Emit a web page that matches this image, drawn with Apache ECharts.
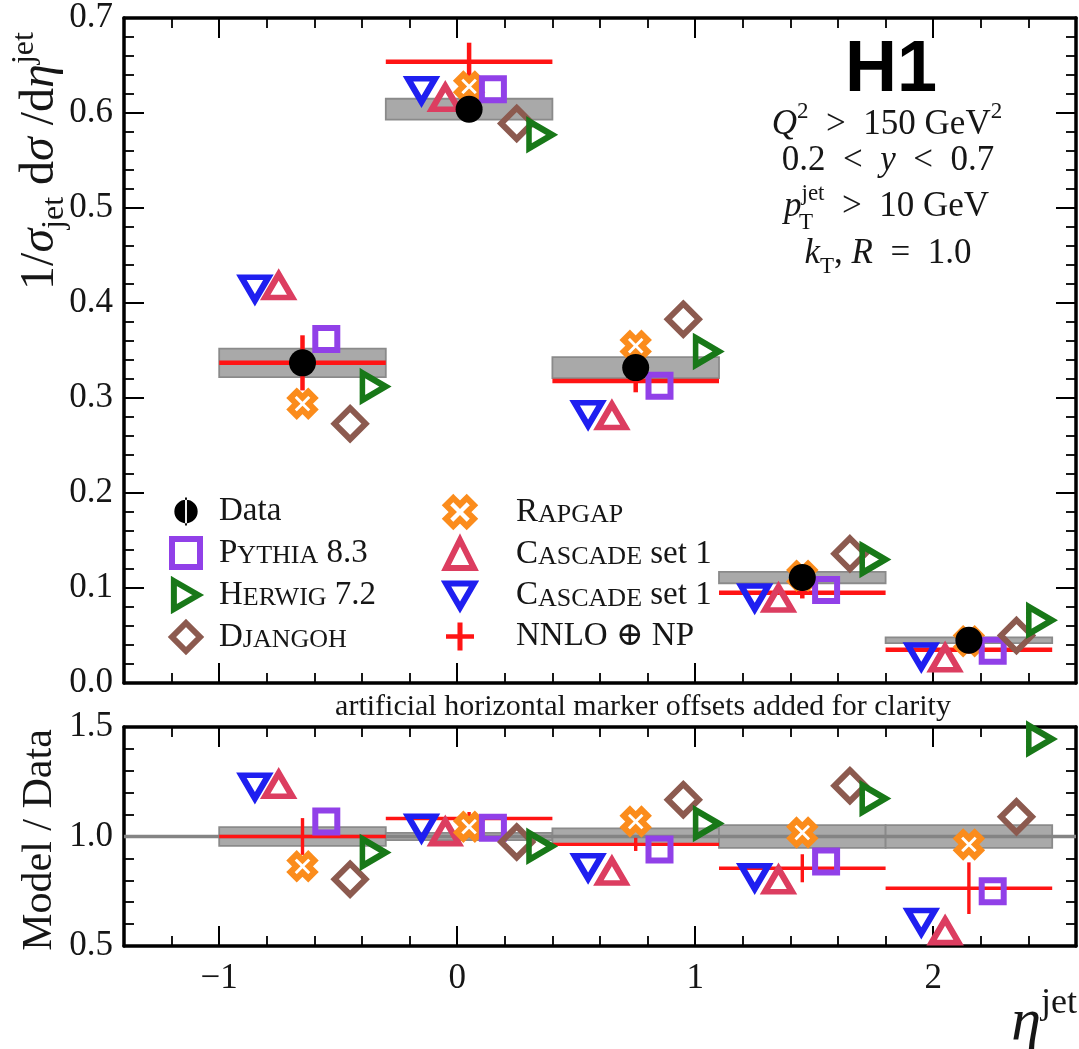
<!DOCTYPE html>
<html><head><meta charset="utf-8">
<script src="https://cdn.jsdelivr.net/npm/echarts@6/dist/echarts.min.js"></script>
<style>html,body{margin:0;padding:0;background:#fff}#c{width:1079px;height:1049px}</style>
</head><body><div id="c"></div>
<script>
// ---------- data ----------
const binLow    = [-1.0, -0.3, 0.4, 1.1, 1.8];
const binHigh   = [-0.3, 0.4, 1.1, 1.8, 2.5];
const binCenter = [-0.65, 0.05, 0.75, 1.45, 2.15];

const dataVal   = [0.337, 0.604, 0.332, 0.111, 0.045];
const dataErr   = [0.015, 0.011, 0.011, 0.006, 0.003];
const nnloVal   = [0.337, 0.654, 0.318, 0.095, 0.035];
const nnloErr   = [0.029, 0.020, 0.012, 0.006, 0.004];
const pythia    = [0.362, 0.625, 0.313, 0.098, 0.034];
const herwig    = [0.312, 0.577, 0.349, 0.130, 0.066];
const djangoh   = [0.273, 0.589, 0.383, 0.136, 0.050];
const rapgap    = [0.294, 0.628, 0.355, 0.113, 0.044];
const cascadeUp   = [0.418, 0.616, 0.281, 0.089, 0.026];
const cascadeDown = [0.415, 0.624, 0.283, 0.090, 0.028];

const dataRelErr       = [0.043, 0.017, 0.037, 0.052, 0.052];
const nnloRatio        = [1.000, 1.082, 0.964, 0.855, 0.764];
const nnloRatioErr     = [0.084, 0.030, 0.030, 0.064, 0.118];
const pythiaRatio      = [1.068, 1.040, 0.941, 0.886, 0.750];
const herwigRatio      = [0.927, 0.955, 1.059, 1.173, 1.445];
const djangohRatio     = [0.805, 0.975, 1.168, 1.232, 1.090];
const rapgapRatio      = [0.864, 1.045, 1.068, 1.018, 0.964];
const cascadeUpRatio   = [1.236, 1.020, 0.840, 0.800, 0.568];
const cascadeDownRatio = [1.227, 1.040, 0.860, 0.814, 0.610];
const unity = [1.0];

const xTickMajor = [-1, 0, 1, 2];
// artificial horizontal marker offsets (eta units)
const offCDown = -0.2, offCUp = -0.1, offRapgap = 0, offData = 0, offPythia = 0.1, offDjangoh = 0.2, offHerwig = 0.3;

// ---------- style ----------
const SERIF = "'Liberation Serif','DejaVu Serif',serif";
const C_PYTHIA = '#9140e8', C_HERWIG = '#187818', C_DJANGOH = '#8c5a4f', C_RAPGAP = '#fb8c1c';
const C_CUP = '#dc3d60', C_CDOWN = '#1f1ff0', C_NNLO = '#ff1414', C_TXT = '#161616';
const SYM_DOWN  = 'path://M0,0 L10,0 L5,8.66 Z';
const SYM_RIGHT = 'path://M0,0 L8.66,5 L0,10 Z';
const SYM_X = 'path://M2.6,0 L5,2.4 L7.4,0 L10,2.6 L7.6,5 L10,7.4 L7.4,10 L5,7.6 L2.6,10 L0,7.4 L2.4,5 L0,2.6 Z';
const ICON_DATA = 'path://M1,6 A5,5 0 1,0 11,6 A5,5 0 1,0 1,6 Z M5.6,0 L6.4,0 L6.4,12 L5.6,12 Z';
const ICON_PLUS = 'path://M4.1,0 L5.9,0 L5.9,4.2 L10,4.2 L10,5.8 L5.9,5.8 L5.9,10 L4.1,10 L4.1,5.8 L0,5.8 L0,4.2 L4.1,4.2 Z';

const chart = echarts.init(document.getElementById('c'), null, {renderer: 'canvas'});

const gridTop = {left: 124, right: 3, top: 18, height: 665};
const gridBot = {left: 124, right: 3, top: 727, height: 219};

function xMajor(grid, pos, labels) {
  return {type: 'value', gridIndex: grid, position: pos, min: -1.4, max: 2.6,
    axisLine: {show: true, onZero: false, lineStyle: {color: '#000', width: 3.5}},
    axisTick: {show: true, inside: true, length: 20, customValues: xTickMajor, lineStyle: {color: '#000', width: 2}},
    axisLabel: {show: labels, customValues: xTickMajor, margin: 15,
      formatter: v => (v < 0 ? '\u2212' + Math.abs(v) : String(v)),
      fontFamily: SERIF, fontSize: 35, color: C_TXT},
    splitLine: {show: false}, minorTick: {show: false}};
}
function xMinor(grid, pos) {
  return {type: 'value', gridIndex: grid, position: pos, min: -1.4, max: 2.6, interval: 0.2,
    axisLine: {show: false, onZero: false},
    axisTick: {show: true, inside: true, length: 10, lineStyle: {color: '#000', width: 1.8}},
    axisLabel: {show: false}, splitLine: {show: false}};
}
function yAx(grid, pos, min, max, interval, labels) {
  return {type: 'value', gridIndex: grid, position: pos, min, max, interval,
    axisLine: {show: true, onZero: false, lineStyle: {color: '#000', width: 3.5}},
    axisTick: {show: true, inside: true, length: 20, lineStyle: {color: '#000', width: 2}},
    minorTick: {show: true, splitNumber: 5, length: 10, lineStyle: {color: '#000', width: 1.8}},
    axisLabel: {show: labels, margin: 11, formatter: v => v.toFixed(1), fontFamily: SERIF, fontSize: 35, color: C_TXT},
    splitLine: {show: false}, minorSplitLine: {show: false}};
}
function yHidden(grid) { return {type: 'value', gridIndex: grid, show: false, min: 0, max: 1, splitLine: {show: false}}; }

function boxRender(params, api) {
  const lo = api.value(0), hi = api.value(1), v = api.value(2), e = api.value(3);
  const p1 = api.coord([lo, v + e]), p2 = api.coord([hi, v - e]);
  return {type: 'rect', shape: {x: p1[0], y: p1[1], width: p2[0] - p1[0], height: p2[1] - p1[1]},
    style: {fill: '#a9a9a9', stroke: '#8a8a8a', lineWidth: 1.8}};
}
function nnloRender(lw) {
  return function (params, api) {
    const lo = api.value(0), hi = api.value(1), c = api.value(2), v = api.value(3), e = api.value(4);
    const a = api.coord([lo, v]), b = api.coord([hi, v]), t = api.coord([c, v + e]), u = api.coord([c, v - e]);
    return {type: 'group', children: [
      {type: 'line', shape: {x1: a[0], y1: a[1], x2: b[0], y2: b[1]}, style: {stroke: C_NNLO, lineWidth: lw}},
      {type: 'line', shape: {x1: t[0], y1: t[1], x2: u[0], y2: u[1]}, style: {stroke: C_NNLO, lineWidth: lw}}]};
  };
}
function unityRender(params, api) {
  const cs = params.coordSys;
  const y = api.coord([0, api.value(1)])[1];
  return {type: 'line', shape: {x1: cs.x, y1: y, x2: cs.x + cs.width, y2: y}, style: {stroke: '#848484', lineWidth: 3.5}};
}
function sc(name, vals, off, xi, yi, symbol, size, color, fill, bw, z) {
  return {type: 'scatter', name, xAxisIndex: xi, yAxisIndex: yi, z, symbol, symbolSize: size,
    data: vals.map((v, i) => [binCenter[i] + off, v]),
    itemStyle: {color: fill, borderColor: color, borderWidth: bw, opacity: 1},
    emphasis: {disabled: true}, silent: true};
}

const N_DATA = 'Data', N_PY = 'Pythia 8.3', N_HW = 'Herwig 7.2', N_DJ = 'Djangoh', N_RG = 'Rapgap',
      N_CU = 'Cascade set 1 (up)', N_CD = 'Cascade set 1 (down)', N_NN = 'NNLO \u2295 NP';

function modelSeries(xi, yi, v) {
  return [
    sc(N_CD, v.cd, offCDown, xi, yi, SYM_DOWN, [27, 23], C_CDOWN, 'none', 6, 5),
    sc(N_CU, v.cu, offCUp, xi, yi, 'triangle', [27, 23], C_CUP, 'none', 6, 5),
    sc(N_RG, v.rg, offRapgap, xi, yi, SYM_X, 24, C_RAPGAP, '#fff', 6, 5),
    sc(N_PY, v.py, offPythia, xi, yi, 'rect', 22, C_PYTHIA, 'none', 6, 5),
    sc(N_DJ, v.dj, offDjangoh, xi, yi, 'diamond', 31, C_DJANGOH, 'none', 6, 5),
    sc(N_HW, v.hw, offHerwig, xi, yi, SYM_RIGHT, [23, 27], C_HERWIG, 'none', 6, 5)
  ];
}

const series = [
  {type: 'custom', name: 'Data box', xAxisIndex: 0, yAxisIndex: 0, z: 2, silent: true, renderItem: boxRender,
    data: binLow.map((l, i) => [l, binHigh[i], dataVal[i], dataErr[i]])},
  {type: 'custom', name: N_NN, xAxisIndex: 0, yAxisIndex: 0, z: 4, silent: true, renderItem: nnloRender(4.5),
    itemStyle: {color: C_NNLO},
    data: binLow.map((l, i) => [l, binHigh[i], binCenter[i], nnloVal[i], nnloErr[i]])},
  ...modelSeries(0, 0, {cd: cascadeDown, cu: cascadeUp, rg: rapgap, py: pythia, dj: djangoh, hw: herwig}),
  sc(N_DATA, dataVal, offData, 0, 0, 'circle', 27, '#000', '#000', 0, 6),

  {type: 'custom', name: 'Data box r', xAxisIndex: 4, yAxisIndex: 3, z: 2, silent: true, renderItem: boxRender,
    data: binLow.map((l, i) => [l, binHigh[i], 1.0, dataRelErr[i]])},
  {type: 'custom', name: 'unity', xAxisIndex: 4, yAxisIndex: 3, z: 3, silent: true, renderItem: unityRender,
    data: unity.map(u => [0, u])},
  {type: 'custom', name: N_NN, xAxisIndex: 4, yAxisIndex: 3, z: 4, silent: true, renderItem: nnloRender(3.4),
    itemStyle: {color: C_NNLO},
    data: binLow.map((l, i) => [l, binHigh[i], binCenter[i], nnloRatio[i], nnloRatioErr[i]])},
  ...modelSeries(4, 3, {cd: cascadeDownRatio, cu: cascadeUpRatio, rg: rapgapRatio, py: pythiaRatio, dj: djangohRatio, hw: herwigRatio})
];

const legendText = {};
legendText[N_DATA] = '{n|Data}';
legendText[N_PY] = '{n|P}{s|YTHIA}{n| 8.3}';
legendText[N_HW] = '{n|H}{s|ERWIG}{n| 7.2}';
legendText[N_DJ] = '{n|D}{s|JANGOH}';
legendText[N_RG] = '{n|R}{s|APGAP}';
legendText[N_CU] = '{n|C}{s|ASCADE}{n| set 1}';
legendText[N_CD] = '{n|C}{s|ASCADE}{n| set 1}';
legendText[N_NN] = '{n|NNLO \u2295 NP}';
const legRich = {
  n: {fontFamily: SERIF, fontSize: 33, color: C_TXT, verticalAlign: 'bottom', lineHeight: 33},
  s: {fontFamily: SERIF, fontSize: 26, color: C_TXT, verticalAlign: 'bottom', lineHeight: 26}
};
function legend(left, pad, items) {
  return {show: true, orient: 'vertical', left, top: 490, itemGap: 8, itemWidth: 28, itemHeight: 28,
    selectedMode: false, formatter: n => legendText[n], data: items,
    textStyle: {padding: [0, 0, 0, pad], rich: legRich}};
}
const legends = [
  legend(164, 14, [
    {name: N_DATA, icon: ICON_DATA, itemStyle: {color: '#000', borderWidth: 0}},
    {name: N_PY, icon: 'rect', itemStyle: {color: 'rgba(0,0,0,0)', borderColor: C_PYTHIA, borderWidth: 6}},
    {name: N_HW, icon: SYM_RIGHT, itemStyle: {color: 'rgba(0,0,0,0)', borderColor: C_HERWIG, borderWidth: 6}},
    {name: N_DJ, icon: 'diamond', itemStyle: {color: 'rgba(0,0,0,0)', borderColor: C_DJANGOH, borderWidth: 6}}]),
  legend(438, 37, [
    {name: N_RG, icon: SYM_X, itemStyle: {color: '#fff', borderColor: C_RAPGAP, borderWidth: 6}},
    {name: N_CU, icon: 'triangle', itemStyle: {color: 'rgba(0,0,0,0)', borderColor: C_CUP, borderWidth: 6}},
    {name: N_CD, icon: SYM_DOWN, itemStyle: {color: 'rgba(0,0,0,0)', borderColor: C_CDOWN, borderWidth: 6}},
    {name: N_NN, icon: ICON_PLUS, itemStyle: {color: C_NNLO, borderWidth: 0}}])
];

const tRich = (fs, sub) => {
  const ss = Math.round(fs * (sub || 0.66));
  return {
    n: {fontFamily: SERIF, fontSize: fs, fill: C_TXT, lineHeight: fs + 14},
    i: {fontFamily: SERIF, fontSize: fs, fontStyle: 'italic', fill: C_TXT, lineHeight: fs + 14},
    sub: {fontFamily: SERIF, fontSize: ss, fill: C_TXT, lineHeight: ss, verticalAlign: 'bottom'},
    sup: {fontFamily: SERIF, fontSize: ss, fill: C_TXT, lineHeight: ss, verticalAlign: 'top'}
  };
};
const EN = '\u2002';

const graphic = [
  {type: 'text', x: 40, y: 161, rotation: Math.PI / 2, silent: true,
    style: {text: '{n|1/}{i|\u03c3}{sub|jet}{n| d}{i|\u03c3}{n| /d}{i|\u03b7}{sup|jet}', rich: tRich(48), align: 'center', verticalAlign: 'middle'}},
  {type: 'text', x: 40, y: 840, rotation: Math.PI / 2, silent: true,
    style: {text: 'Model / Data', fontFamily: SERIF, fontSize: 42, fill: C_TXT, align: 'center', verticalAlign: 'middle'}},
  {type: 'text', x: 1077, y: 1023, silent: true,
    style: {text: '{i|\u03b7}{sup|jet}', rich: tRich(60, 0.6), align: 'right', verticalAlign: 'middle'}},
  {type: 'text', x: 643, y: 707, silent: true,
    style: {text: 'artificial horizontal marker offsets added for clarity', fontFamily: SERIF, fontSize: 30, fill: C_TXT, align: 'center', verticalAlign: 'middle'}},
  {type: 'text', x: 891, y: 71, silent: true,
    style: {text: 'H1', fontFamily: "'Liberation Sans',Arial,sans-serif", fontWeight: 'bold', fontSize: 72, fill: '#000', align: 'center', verticalAlign: 'middle'}},
  {type: 'text', x: 887, y: 125, silent: true,
    style: {text: '{i|Q}{sup|2}{n|' + EN + '>' + EN + '150 GeV}{sup|2}', rich: tRich(35), align: 'center', verticalAlign: 'middle'}},
  {type: 'text', x: 888, y: 161, silent: true,
    style: {text: '{n|0.2' + EN + '<' + EN + '}{i|y}{n|' + EN + '<' + EN + '0.7}', rich: tRich(35), align: 'center', verticalAlign: 'middle'}},
  {type: 'text', x: 784, y: 207, silent: true,
    style: {text: '{i|p}{sup|jet}{n|' + EN + '>' + EN + '10 GeV}', rich: tRich(35), align: 'left', verticalAlign: 'middle'}},
  {type: 'text', x: 799, y: 223, silent: true,
    style: {text: 'T', fontFamily: SERIF, fontSize: 23, fill: C_TXT, align: 'left', verticalAlign: 'middle'}},
  {type: 'text', x: 888, y: 254, silent: true,
    style: {text: '{i|k}{sub|T}{n|, }{i|R}{n|' + EN + '=' + EN + '1.0}', rich: tRich(35), align: 'center', verticalAlign: 'middle'}}
];

chart.setOption({
  animation: false,
  backgroundColor: '#fff',
  grid: [gridTop, Object.assign({}, gridTop), gridBot, Object.assign({}, gridBot)],
  xAxis: [xMajor(0, 'bottom', false), xMajor(0, 'top', false), xMinor(1, 'bottom'), xMinor(1, 'top'),
          xMajor(2, 'bottom', true), xMajor(2, 'top', false), xMinor(3, 'bottom'), xMinor(3, 'top')],
  yAxis: [yAx(0, 'left', 0, 0.7, 0.1, true), yAx(0, 'right', 0, 0.7, 0.1, false), yHidden(1),
          yAx(2, 'left', 0.5, 1.5, 0.5, true), yAx(2, 'right', 0.5, 1.5, 0.5, false), yHidden(3)],
  legend: legends,
  series,
  graphic
});
</script></body></html>
